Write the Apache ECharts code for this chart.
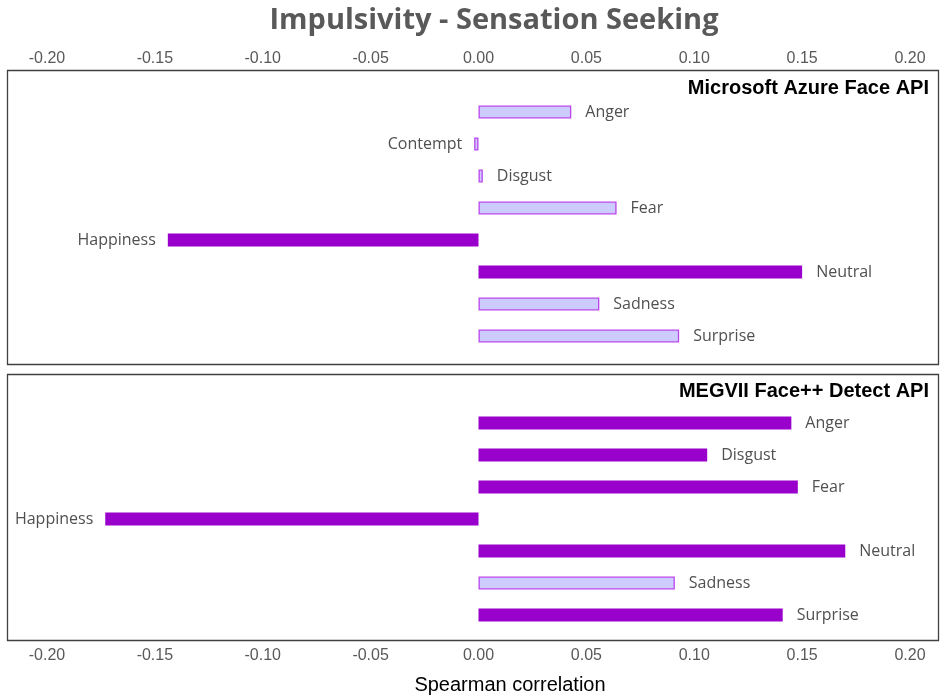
<!DOCTYPE html>
<html>
<head>
<meta charset="utf-8">
<script src="https://cdn.jsdelivr.net/npm/echarts@6/dist/echarts.min.js"></script>
<style>html,body{margin:0;padding:0;background:#fff;}#c{width:944px;height:699px;}</style>
</head>
<body>
<div id="c"></div>
<script>
const titleText = 'Impulsivity - Sensation Seeking';
const axisName = 'Spearman correlation';
const tickMin = -0.2, tickMax = 0.2, tickStep = 0.05;

const azureTitle = 'Microsoft Azure Face API';
const azureCats = ['Anger','Contempt','Disgust','Fear','Happiness','Neutral','Sadness','Surprise'];
const azureVals = [0.043, -0.002, 0.002, 0.064, -0.144, 0.150, 0.056, 0.093];
const azureSig  = [false, false, false, false, true, true, false, false];

const megviiTitle = 'MEGVII Face++ Detect API';
const megviiCats = ['Anger','Disgust','Fear','Happiness','Neutral','Sadness','Surprise'];
const megviiVals = [0.145, 0.106, 0.148, -0.173, 0.170, 0.091, 0.141];
const megviiSig  = [true, true, true, true, true, false, true];

const SIG_FILL = '#9900CC', NS_FILL = '#CCCCFF', NS_BORDER = '#BB44EE';
const labelFont = '"Open Sans", "Noto Sans", sans-serif';
const tickFont = '"Liberation Sans", Arial, sans-serif';

function items(cats, vals, sig) {
  return vals.map((v, i) => ({
    value: v,
    itemStyle: sig[i] ? { color: SIG_FILL, borderColor: SIG_FILL, borderWidth: 0 }
                      : { color: NS_FILL, borderColor: NS_BORDER, borderWidth: 1.3 },
    label: { show: true, position: v < 0 ? 'left' : 'right', distance: v < 0 ? 12 : 14,
             formatter: cats[i], color: '#505050', fontSize: 16, fontFamily: labelFont }
  }));
}

const chart = echarts.init(document.getElementById('c'), null, { renderer: 'canvas' });
const xCommon = {
  type: 'value', min: tickMin, max: tickMax, interval: tickStep,
  axisLine: { show: false }, axisTick: { show: false }, splitLine: { show: false },
};
chart.setOption({
  animation: false,
  graphic: [
    { type: 'text', x: 494, y: 6, style: { text: titleText, align: 'center', verticalAlign: 'top',
      font: 'bold 29px "Open Sans", sans-serif', fill: '#595959' } },
    { type: 'rect', shape: { x: 7.5, y: 70.5, width: 931, height: 294 }, style: { fill: 'none', stroke: '#404040', lineWidth: 1.3 }, z: 0 },
    { type: 'rect', shape: { x: 7.5, y: 374.5, width: 931, height: 266 }, style: { fill: 'none', stroke: '#404040', lineWidth: 1.3 }, z: 0 },
    { type: 'text', x: 929, y: 78, style: { text: azureTitle, align: 'right', verticalAlign: 'top', font: 'bold 20px "Liberation Sans", Arial, sans-serif', fill: '#000' } },
    { type: 'text', x: 929, y: 381, style: { text: megviiTitle, align: 'right', verticalAlign: 'top', font: 'bold 20px "Liberation Sans", Arial, sans-serif', fill: '#000' } },
    { type: 'text', x: 510, y: 675, style: { text: axisName, align: 'center', verticalAlign: 'top', font: '20px "Liberation Sans", Arial, sans-serif', fill: '#000' } }
  ],
  grid: [
    { left: 47, right: 34, top: 96, height: 256 },
    { left: 47, right: 34, top: 407, height: 224 }
  ],
  xAxis: [
    Object.assign({}, xCommon, { gridIndex: 0, position: 'top',
      axisLabel: { margin: 29, fontSize: 16, color: '#595959', fontFamily: tickFont, formatter: v => v.toFixed(2) } }),
    Object.assign({}, xCommon, { gridIndex: 1, position: 'bottom',
      axisLabel: { margin: 17, fontSize: 16, color: '#595959', fontFamily: tickFont, formatter: v => v.toFixed(2) } })
  ],
  yAxis: [
    { type: 'category', gridIndex: 0, data: azureCats, inverse: true, axisLine: { show: false }, axisTick: { show: false }, axisLabel: { show: false } },
    { type: 'category', gridIndex: 1, data: megviiCats, inverse: true, axisLine: { show: false }, axisTick: { show: false }, axisLabel: { show: false } }
  ],
  series: [
    { type: 'bar', xAxisIndex: 0, yAxisIndex: 0, barWidth: 13, data: items(azureCats, azureVals, azureSig) },
    { type: 'bar', xAxisIndex: 1, yAxisIndex: 1, barWidth: 13, data: items(megviiCats, megviiVals, megviiSig) }
  ]
});
</script>
</body>
</html>
